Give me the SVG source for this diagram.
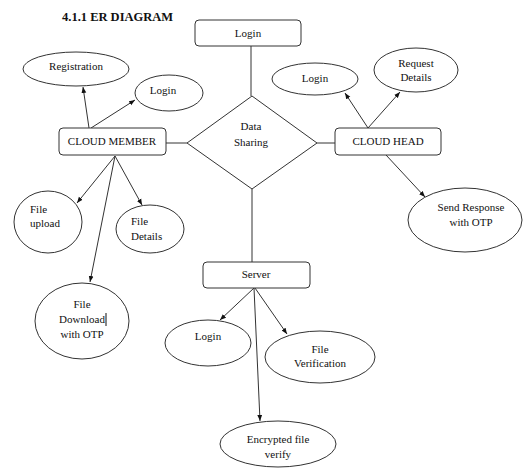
<svg xmlns="http://www.w3.org/2000/svg" width="525" height="475" viewBox="0 0 525 475">
<style>
.box{fill:#fff;stroke:#333;stroke-width:1}
.ell{fill:#fff;stroke:#333;stroke-width:1}
.t{font-family:"Liberation Serif","Times New Roman",serif;font-size:11px;fill:#111;text-anchor:middle}
.tl{font-family:"Liberation Serif","Times New Roman",serif;font-size:11px;fill:#111}
.title{font-family:"Liberation Serif","Times New Roman",serif;font-size:12.5px;font-weight:bold;fill:#111}
.c{fill:none;stroke:#333;stroke-width:1}
.ca{fill:none;stroke:#333;stroke-width:1;marker-end:url(#ah)}
</style>
<defs>
<marker id="ah" viewBox="0 0 10 10" refX="10" refY="5" markerWidth="6" markerHeight="6" orient="auto" markerUnits="userSpaceOnUse">
<path d="M0,1 L10,5 L0,9 z" fill="#111"/>
</marker>
</defs>
<rect width="525" height="475" fill="#fff"/>
<text class="title" x="62" y="21">4.1.1 ER DIAGRAM</text>

<g id="connectors">
<path class="c" d="M251,46 V96"/>
<path class="c" d="M166,143 H187"/>
<path class="c" d="M317,143 H335"/>
<path class="c" d="M252,189 V262"/>
<path class="ca" d="M89,128 L83,87"/>
<path class="ca" d="M91,128 L135,100"/>
<path class="ca" d="M115,156 L77,203"/>
<path class="ca" d="M115,156 L142,205"/>
<path class="ca" d="M115,156 L90,282"/>
<path class="ca" d="M368,128 L345,93"/>
<path class="ca" d="M368,128 L400,92"/>
<path class="ca" d="M386,155 L425,197"/>
<path class="ca" d="M254,288 L220,320"/>
<path class="ca" d="M255,288 L287,334"/>
<path class="ca" d="M254,288 L260,421"/>
</g>

<g id="login-top">
<rect class="box" x="195" y="20" width="106" height="26" rx="4"/>
<text class="t" x="248" y="37">Login</text>
</g>
<g id="data-sharing">
<path class="box" d="M252,96 L317,143 L252,189 L187,143 Z"/>
<text class="t" x="251" y="130">Data</text>
<text class="t" x="251" y="146">Sharing</text>
</g>
<g id="cloud-member">
<rect class="box" x="59" y="128" width="107" height="27" rx="4"/>
<text class="t" x="112" y="145">CLOUD MEMBER</text>
</g>
<g id="cloud-head">
<rect class="box" x="335" y="128" width="106" height="27" rx="4"/>
<text class="t" x="388" y="145">CLOUD HEAD</text>
</g>
<g id="server">
<rect class="box" x="203" y="262" width="107" height="26" rx="4"/>
<text class="t" x="256" y="278">Server</text>
</g>
<g id="registration">
<ellipse class="ell" cx="76" cy="69" rx="53" ry="17"/>
<text class="t" x="76" y="70">Registration</text>
</g>
<g id="login-member">
<ellipse class="ell" cx="169" cy="93" rx="34" ry="18"/>
<text class="t" x="163" y="94">Login</text>
</g>
<g id="login-head">
<ellipse class="ell" cx="315" cy="79" rx="43" ry="16"/>
<text class="t" x="315" y="82">Login</text>
</g>
<g id="request-details">
<ellipse class="ell" cx="416" cy="70" rx="42" ry="22"/>
<text class="t" x="416" y="67">Request</text>
<text class="t" x="416" y="81">Details</text>
</g>
<g id="send-response">
<ellipse class="ell" cx="465" cy="220" rx="57" ry="32"/>
<text class="t" x="471" y="211">Send Response</text>
<text class="t" x="471" y="226">with OTP</text>
</g>
<g id="file-upload">
<ellipse class="ell" cx="48" cy="222" rx="34" ry="31"/>
<text class="tl" x="30" y="213">File</text>
<text class="tl" x="30" y="227">upload</text>
</g>
<g id="file-details">
<ellipse class="ell" cx="150" cy="229" rx="34" ry="24"/>
<text class="tl" x="131" y="225">File</text>
<text class="tl" x="131" y="240">Details</text>
</g>
<g id="file-download">
<ellipse class="ell" cx="82" cy="321" rx="47" ry="38"/>
<text class="t" x="82" y="308">File</text>
<text class="t" x="82" y="323">Download</text>
<path d="M106,313 V326" stroke="#111" stroke-width="1"/>
<text class="t" x="82" y="338">with OTP</text>
</g>
<g id="login-server">
<ellipse class="ell" cx="208" cy="343" rx="43" ry="23"/>
<text class="t" x="208" y="340">Login</text>
</g>
<g id="file-verification">
<ellipse class="ell" cx="320" cy="357" rx="55" ry="26"/>
<text class="t" x="320" y="353">File</text>
<text class="t" x="320" y="367">Verification</text>
</g>
<g id="encrypted-file">
<ellipse class="ell" cx="278" cy="444" rx="58" ry="23"/>
<text class="t" x="278" y="443">Encrypted file</text>
<text class="t" x="278" y="458">verify</text>
</g>
</svg>
